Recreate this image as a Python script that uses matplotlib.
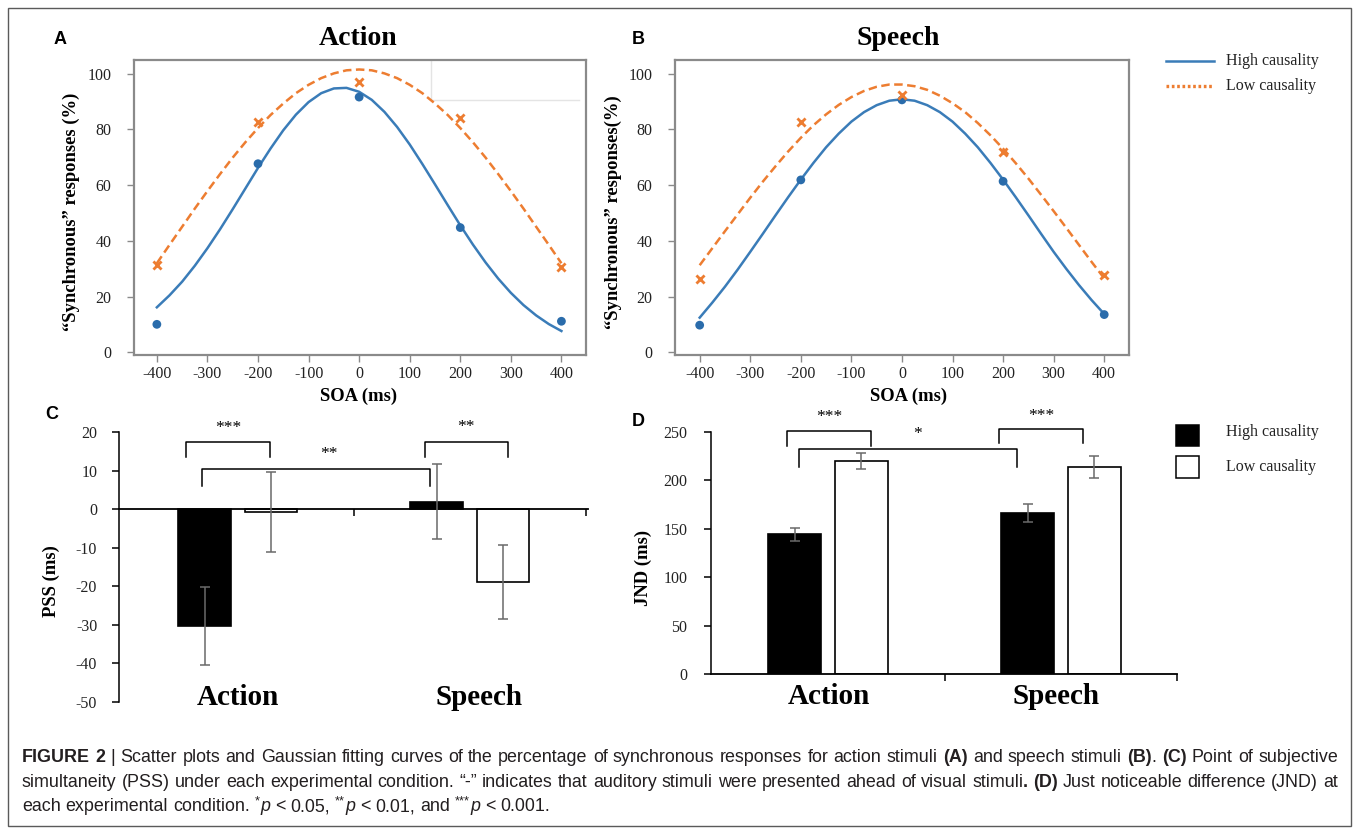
import re
import numpy as np
import matplotlib
matplotlib.use('Agg')
import matplotlib.pyplot as plt
from matplotlib.font_manager import FontProperties
from matplotlib.lines import Line2D
from matplotlib.patches import Rectangle

plt.rcParams['axes.unicode_minus'] = False

W, H = 1357, 833
SERIF = ['Liberation Serif', 'DejaVu Serif']
SANS = ['Liberation Sans', 'DejaVu Sans']
NARROW = ['Liberation Sans Narrow', 'Liberation Sans', 'DejaVu Sans']
BLUE = '#3a7cb8'
BLUE_DOT = '#2a6cab'
ORANGE = '#ed7d31'

# ---- panels A / B : observed points ----
soa = [-400, -200, 0, 200, 400]
action_high = [10.1, 67.7, 91.6, 44.8, 11.2]
action_low = [31.3, 82.8, 97.1, 84.0, 30.5]
speech_high = [9.8, 61.9, 90.6, 61.4, 13.6]
speech_low = [26.5, 82.8, 92.4, 72.0, 27.8]

# fitted curves, read every 25 ms
fit_x = [-400, -375, -350, -325, -300, -275, -250, -225, -200, -175, -150,
         -125, -100, -75, -50, -25, 0, 25, 50, 75, 100, 125, 150, 175, 200,
         225, 250, 275, 300, 325, 350, 375, 400]
action_high_fit = [16.2, 20.5, 25.4, 31.1, 37.4, 44.2, 51.4, 58.8, 66.2, 73.2,
                   79.7, 85.3, 89.8, 93.0, 94.7, 94.9, 93.5, 90.6, 86.3, 80.9,
                   74.6, 67.6, 60.3, 52.9, 45.6, 38.7, 32.3, 26.5, 21.4, 17.0,
                   13.3, 10.2, 7.7]
action_low_fit = [32.0, 38.6, 45.1, 51.6, 57.9, 64.0, 69.9, 75.4, 80.5, 85.2,
                  89.3, 93.0, 96.0, 98.4, 100.1, 101.2, 101.5, 101.2, 100.1,
                  98.4, 96.0, 93.0, 89.3, 85.2, 80.5, 75.4, 69.9, 64.0, 57.9,
                  51.6, 45.1, 38.6, 32.0]
speech_high_fit = [12.5, 17.9, 23.6, 29.7, 36.1, 42.6, 49.2, 55.7, 62.0, 68.0,
                   73.6, 78.5, 82.8, 86.2, 88.7, 90.3, 90.8, 90.3, 88.7, 86.2,
                   82.8, 78.5, 73.6, 68.0, 62.0, 55.7, 49.2, 42.6, 36.1, 30.0,
                   24.2, 18.8, 13.8]
speech_low_fit = [31.3, 37.4, 43.5, 49.5, 55.5, 61.3, 66.8, 72.1, 77.0, 81.5,
                  85.4, 88.8, 91.6, 93.8, 95.3, 96.1, 96.1, 95.5, 94.2, 92.1,
                  89.4, 86.2, 82.3, 77.9, 73.1, 67.9, 62.4, 56.6, 50.7, 44.7,
                  38.6, 32.5, 26.6]

# ---- panels C / D : bars ----
groups = ['Action', 'Speech']
pss_high = [-30.3, 2.0]
pss_high_err = [10.1, 9.8]
pss_low = [-0.7, -18.8]
pss_low_err = [10.4, 9.6]
jnd_high = [144.0, 166.0]
jnd_high_err = [6.9, 9.2]
jnd_low = [219.5, 213.5]
jnd_low_err = [8.4, 11.0]

caption = [
    [("FIGURE 2", 'b'), (" | Scatter plots and Gaussian fitting curves of the percentage of "
                         "synchronous responses for action stimuli ", 'n'),
     ("(A)", 'b'), (" and speech stimuli ", 'n'), ("(B)", 'b'), (". ", 'n'),
     ("(C)", 'b'), (" Point of subjective", 'n')],
    [("simultaneity (PSS) under each experimental condition. \u201c-\u201d indicates that "
      "auditory stimuli were presented ahead of visual stimuli", 'n'), (". (D)", 'b'),
     (" Just noticeable difference (JND) at", 'n')],
    [("each experimental condition. ", 'n'), ("*", 's'), ("p", 'i'), (" < 0.05, ", 'n'),
     ("**", 's'), ("p", 'i'), (" < 0.01, and ", 'n'), ("***", 's'), ("p", 'i'),
     (" < 0.001.", 'n')],
]


def fx(px):
    return px / W


def fy(py):
    return 1 - py / H


fig = plt.figure(figsize=(W / 100, H / 100), dpi=100)
fig.patch.set_facecolor('white')


def curve_panel(rect, xlim, high, low, high_fit, low_fit):
    ax = fig.add_axes(rect)
    ax.plot(fit_x, high_fit, color=BLUE, lw=1.8, zorder=2)
    ax.plot(fit_x, low_fit, color=ORANGE, lw=1.8, ls=(0, (3.4, 1.8)), zorder=2)
    ax.scatter(soa, high, s=40, color=BLUE_DOT, edgecolors='none', zorder=3)
    ax.scatter(soa, low, s=34, marker='x', color=ORANGE, linewidths=2, zorder=3)
    ax.set_xlim(*xlim)
    ax.set_ylim(-0.9, 104.9)
    ax.set_xticks(range(-400, 401, 100))
    ax.set_yticks(range(0, 101, 20))
    for sp in ax.spines.values():
        sp.set_color('#8a8a8a')
        sp.set_linewidth(1.6)
    ax.tick_params(direction='out', length=5, width=1, color='#8a8a8a',
                   labelcolor='#222222', labelsize=11.5)
    ax.tick_params(axis='y', pad=11)
    ax.tick_params(axis='x', pad=3)
    for lab in ax.get_xticklabels() + ax.get_yticklabels():
        lab.set_family(SERIF)
    return ax


axA = curve_panel([fx(133.6), fy(355), (586.2 - 133.6) / W, 295 / H], (-446, 449),
                  action_high, action_low, action_high_fit, action_low_fit)
# faint scan artefact box in panel A
axA.plot([0.657, 0.657, 0.985], [1.0, 0.864, 0.864], transform=axA.transAxes,
         color='#e4e4e4', lw=1, zorder=1)
axB = curve_panel([fx(674.9), fy(355), (1129 - 674.9) / W, 295 / H], (-449, 449),
                  speech_high, speech_low, speech_high_fit, speech_low_fit)

BW = 0.227
OFF = 0.143


def bar_panel(rect, xlim, ylim, high, high_err, low, low_err):
    ax = fig.add_axes(rect)
    x = np.arange(len(groups))
    ax.bar(x - OFF, high, BW, color='black', edgecolor='black', lw=1.2, zorder=2)
    ax.bar(x + OFF, low, BW, color='white', edgecolor='black', lw=1.2, zorder=2)
    for xs, ys, es in ((x - OFF, high, high_err), (x + OFF, low, low_err)):
        ax.errorbar(xs, ys, yerr=es, fmt='none', ecolor='#6a6a6a', elinewidth=1.1,
                    capsize=3.5, capthick=1.1, zorder=3)
    ax.set_xlim(*xlim)
    ax.set_ylim(*ylim)
    ax.spines['top'].set_visible(False)
    ax.spines['right'].set_visible(False)
    ax.spines['left'].set_linewidth(1.1)
    ax.spines['bottom'].set_linewidth(1.3)
    ax.set_xticks([0.5, 1.5])
    ax.set_xticklabels([])
    ax.tick_params(direction='out', length=5, width=1.1, labelsize=11.5,
                   labelcolor='#222222')
    for lab in ax.get_yticklabels():
        lab.set_family(SERIF)
    return ax


def bracket(ax, x1, x2, ytop, yleg, label, tx, ty):
    ax.plot([x1, x1, x2, x2], [yleg, ytop, ytop, yleg], color='black', lw=1.1,
            clip_on=False, zorder=4)
    ax.text(tx, ty, label, ha='center', va='center', fontsize=12.5, family=SERIF,
            clip_on=False)


axC = bar_panel([fx(119.4), fy(701.7), 468.6 / W, 269.4 / H], (-0.51, 1.51), (-50, 20),
                pss_high, pss_high_err, pss_low, pss_low_err)
axC.spines['bottom'].set_position(('data', 0))
axC.set_yticks(range(-50, 21, 10))
axC.tick_params(axis='y', pad=11)
bracket(axC, -0.221, 0.138, 17.6, 13.5, '***', -0.041, 21.2)
bracket(axC, -0.155, 0.827, 10.4, 6.1, '**', 0.392, 14.4)
bracket(axC, 0.808, 1.164, 17.6, 13.5, '**', 0.983, 21.3)
for xi, name in zip([0.0, 1.04], groups):
    axC.text(xi, -48.8, name, ha='center', va='center', fontsize=21,
             fontweight='bold', family=SERIF)

axD = bar_panel([fx(711.1), fy(674), 466.2 / W, 242.3 / H], (-0.503, 1.499), (0, 250),
                jnd_high, jnd_high_err, jnd_low, jnd_low_err)
axD.set_yticks(range(0, 251, 50))
axD.tick_params(axis='y', pad=12)
bracket(axD, -0.176, 0.186, 251, 235.5, '***', 0.005, 265)
bracket(axD, -0.124, 0.812, 231.8, 213.9, '*', 0.383, 248)
bracket(axD, 0.735, 1.095, 253, 238, '***', 0.914, 266.6)
for xi, name in zip([0.005, 0.98], groups):
    axD.text(xi, -23.4, name, ha='center', va='center', fontsize=21,
             fontweight='bold', family=SERIF, clip_on=False)

# titles, axis labels, panel letters
title_kw = dict(fontsize=20, fontweight='bold', family=SERIF, ha='center', va='center')
fig.text(fx(358.5), fy(38.3), 'Action', **title_kw)
fig.text(fx(898.6), fy(38.3), 'Speech', **title_kw)
lab_kw = dict(fontsize=13.4, fontweight='bold', family=SERIF, ha='center', va='center')
fig.text(fx(358.5), fy(396.7), 'SOA (ms)', **lab_kw)
fig.text(fx(909), fy(396.7), 'SOA (ms)', **lab_kw)
fig.text(fx(71), fy(212), '\u201cSynchronous\u201d responses (%)', rotation=90, **lab_kw)
fig.text(fx(613.5), fy(212), '\u201cSynchronous\u201d responses(%)', rotation=90, **lab_kw)
fig.text(fx(51.4), fy(581), 'PSS (ms)', rotation=90, **lab_kw)
fig.text(fx(643.5), fy(568), 'JND (ms)', rotation=90, **lab_kw)
let_kw = dict(fontsize=13, fontweight='bold', family=SANS, ha='center', va='center')
for letter, px, py in (('A', 60, 39), ('B', 638.6, 39), ('C', 51.4, 414), ('D', 638.6, 421.7)):
    fig.text(fx(px), fy(py), letter, **let_kw)

# legend for A/B
leg_kw = dict(fontsize=11.5, family=SERIF, ha='left', va='center', color='#222222')
fig.add_artist(Line2D([fx(1166), fx(1214)], [fy(60.7)] * 2, color=BLUE, lw=1.8))
fig.add_artist(Line2D([fx(1166), fx(1214)], [fy(86)] * 2, color=ORANGE, lw=2.4,
                      ls=(0, (0.8, 0.8))))
fig.text(fx(1226), fy(60.7), 'High causality', **leg_kw)
fig.text(fx(1226), fy(86), 'Low causality', **leg_kw)

# legend for C/D
fig.add_artist(Rectangle((fx(1176), fy(446)), 23 / W, 21.5 / H, transform=fig.transFigure,
                         facecolor='black', edgecolor='black', lw=1.1))
fig.add_artist(Rectangle((fx(1176), fy(477.5)), 23 / W, 21.5 / H, transform=fig.transFigure,
                         facecolor='white', edgecolor='black', lw=1.1))
fig.text(fx(1226), fy(432), 'High causality', **leg_kw)
fig.text(fx(1226), fy(467), 'Low causality', **leg_kw)

# outer frame
fig.add_artist(Rectangle((fx(7.5), fy(826)), (1350.5 - 7.5) / W, (826 - 7.5) / H,
                         transform=fig.transFigure, fill=False, edgecolor='#5a5a5a', lw=1))

# caption with mixed styles
renderer = fig.canvas.get_renderer()


def font_for(kind, size):
    return FontProperties(family=NARROW, size=size * 0.72 if kind == 's' else size,
                          weight='bold' if kind == 'b' else 'normal',
                          style='italic' if kind == 'i' else 'normal')


def measure(s, fp):
    w1 = renderer.get_text_width_height_descent('X' + s + 'X', fp, ismath=False)[0]
    w0 = renderer.get_text_width_height_descent('XX', fp, ismath=False)[0]
    return w1 - w0


def tokens(segs):
    out = []
    for text, kind in segs:
        for part in re.split(r'( )', text):
            if part:
                out.append((part, kind))
    return out


def caption_line(segs, x0, base_y, size, target=None, draw=True):
    toks = tokens(segs)
    widths = [measure(t, font_for(k, size)) for t, k in toks]
    nat = sum(widths)
    if not draw:
        return nat
    nsp = sum(1 for t, _ in toks if t == ' ')
    extra = (target - nat) / nsp if (target and nsp) else 0
    x = x0
    for (t, k), w in zip(toks, widths):
        if t == ' ':
            x += w + extra
            continue
        dy = size * 100 / 72 * 0.36 if k == 's' else 0
        fig.text(fx(x), fy(base_y - dy), t, fontproperties=font_for(k, size),
                 color='#231f20', ha='left', va='baseline')
        x += w
    return nat


target = 1338 - 22
nat10 = caption_line(caption[0], 22, 0, 10, draw=False)
cap_size = 10 * (target - 6) / nat10
caption_line(caption[0], 22, 762, cap_size, target)
caption_line(caption[1], 22, 787, cap_size, target)
caption_line(caption[2], 22, 811, cap_size)

fig.savefig('out.png', dpi=100)
